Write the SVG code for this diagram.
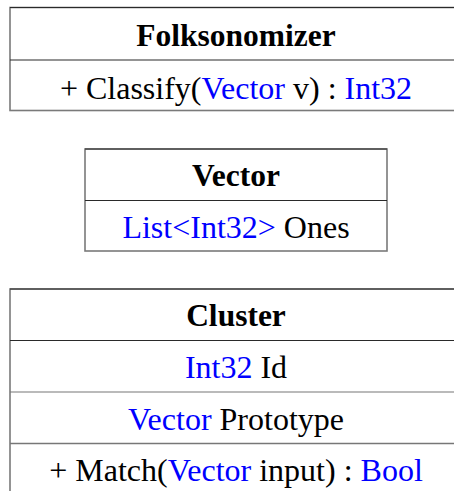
<svg xmlns="http://www.w3.org/2000/svg" width="454" height="491" viewBox="0 0 454 491">
<style>
.box{fill:#fff;stroke:#7a7a7a;stroke-width:1.6}
.div{stroke:#2a2a2a;stroke-width:1.2}
text{font-family:"Liberation Serif","Times New Roman",serif;font-size:32px;text-anchor:middle;fill:#000}
.t{font-weight:bold;font-size:31.5px}
.b{fill:#0000ff}
</style>
<rect width="454" height="491" fill="#fff"/>
<g id="folksonomizer">
<rect class="box" x="10" y="7.5" width="452" height="103"/>
<line class="div" x1="10" y1="7.5" x2="462" y2="7.5"/>
<line class="div" x1="10" y1="60" x2="462" y2="60"/>
<text class="t" x="236" y="46">Folksonomizer</text>
<text x="236" y="98.5">+ Classify(<tspan class="b">Vector</tspan> v) : <tspan class="b">Int32</tspan></text>
</g>
<g id="vector">
<rect class="box" x="85" y="149" width="302" height="102"/>
<line class="div" x1="85" y1="149" x2="387" y2="149"/>
<line class="div" x1="85" y1="200.5" x2="387" y2="200.5"/>
<text class="t" x="236" y="186">Vector</text>
<text x="236" y="238"><tspan class="b">List&lt;Int32&gt;</tspan> Ones</text>
</g>
<g id="cluster">
<rect class="box" x="10" y="289" width="452" height="220"/>
<line class="div" x1="10" y1="289" x2="462" y2="289"/>
<line class="div" x1="10" y1="340.5" x2="462" y2="340.5"/>
<line class="div" x1="10" y1="392" x2="462" y2="392" style="stroke:#777"/>
<line class="div" x1="10" y1="443.5" x2="462" y2="443.5" style="stroke:#777;stroke-width:1.6"/>
<text class="t" x="236" y="326">Cluster</text>
<text x="236" y="378"><tspan class="b">Int32</tspan> Id</text>
<text x="236" y="429.5"><tspan class="b">Vector</tspan> Prototype</text>
<text x="236" y="481">+ Match(<tspan class="b">Vector</tspan> input) : <tspan class="b">Bool</tspan></text>
</g>
<g id="connectors"></g>
</svg>
